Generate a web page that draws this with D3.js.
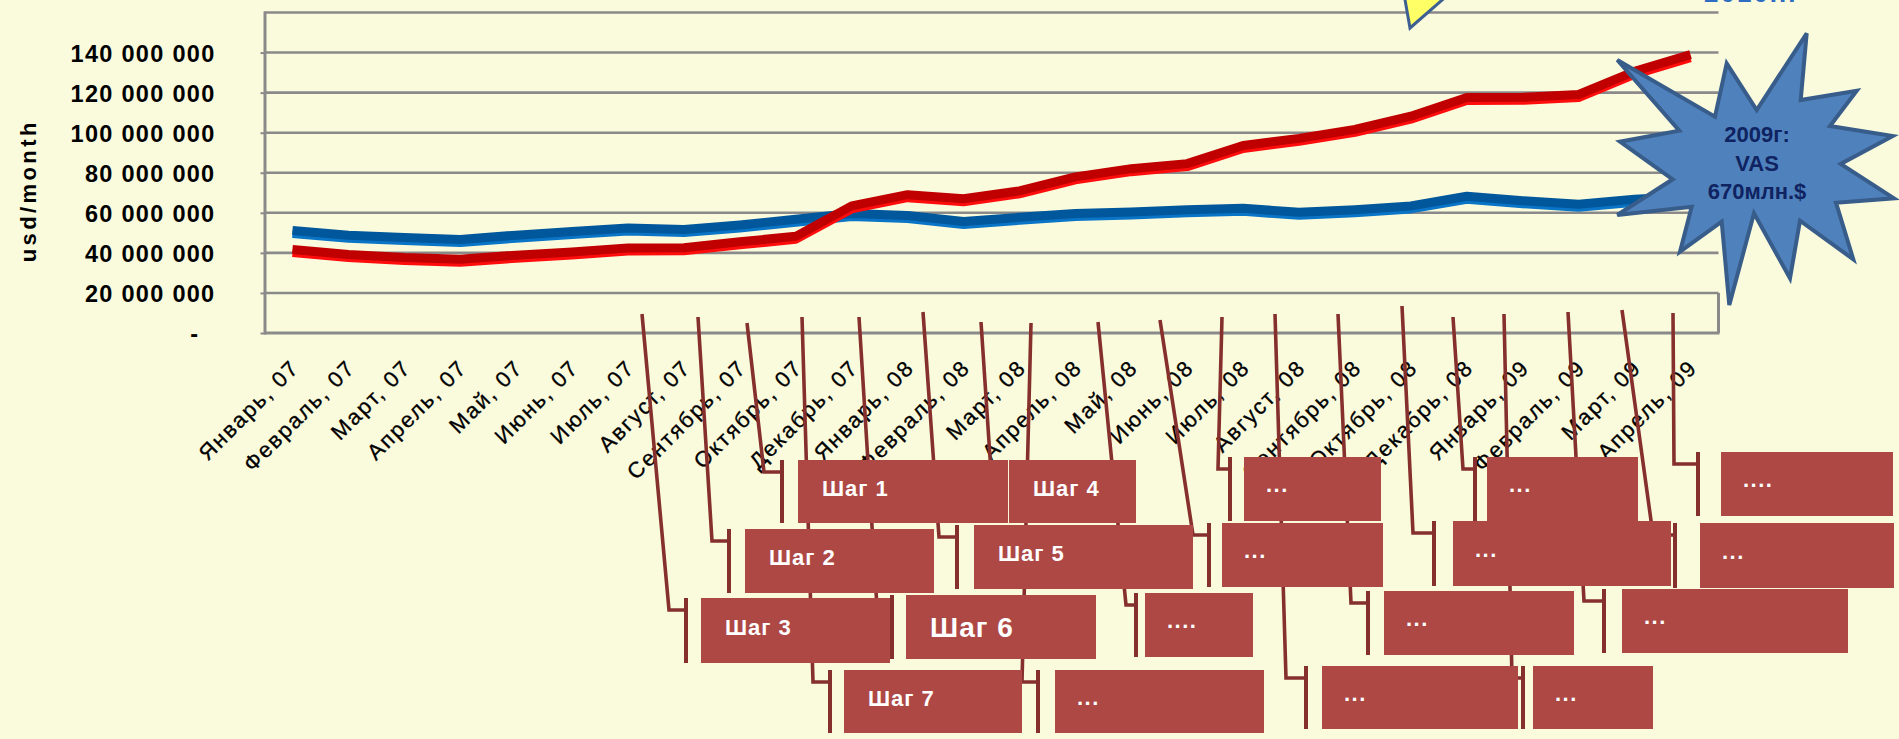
<!DOCTYPE html>
<html>
<head>
<meta charset="utf-8">
<script src="https://cdn.jsdelivr.net/npm/d3@7"></script>
<style>
  html, body { margin: 0; padding: 0; background: #fafbdd; overflow: hidden; }
  svg { display: block; }
  text { font-family: "Liberation Sans", Arial, sans-serif; }
</style>
</head>
<body>
<svg id="chart" width="1899" height="739"></svg>
<script>
// Monthly figures, Jan 2007 – Apr 2009 (November is not in the series)
const categories = [
  "Январь, 07", "Февраль, 07", "Март, 07", "Апрель, 07", "Май, 07", "Июнь, 07",
  "Июль, 07", "Август, 07", "Сентябрь, 07", "Октябрь, 07", "Декабрь, 07",
  "Январь, 08", "Февраль, 08", "Март, 08", "Апрель, 08", "Май, 08", "Июнь, 08",
  "Июль, 08", "Август, 08", "Сентябрь, 08", "Октябрь, 08", "Декабрь, 08",
  "Январь, 09", "Февраль, 09", "Март, 09", "Апрель, 09"
];

// values in millions of USD per month
const blueValues = [50.4, 48.1, 46.9, 45.9, 48.1, 49.9, 51.7, 50.9, 53.2, 56.0, 58.9,
                    57.9, 54.9, 57.0, 58.9, 59.7, 60.8, 61.5, 59.5, 60.8, 62.7,
                    67.5, 65.3, 63.5, 66.0, 67.5];
const redValues  = [40.9, 38.4, 36.9, 36.1, 38.1, 39.7, 41.7, 41.8, 44.8, 47.5, 62.7,
                    68.3, 66.3, 70.2, 77.2, 81.3, 83.8, 92.9, 96.4, 100.9, 107.5,
                    116.8, 116.9, 118.3, 129.9, 138.2];

const yTickValues = [0, 20, 40, 60, 80, 100, 120, 140];   // millions
const yGridValues = [20, 40, 60, 80, 100, 120, 140, 160];
const yMax = 160;
const axisTitle = "usd/month";

const starLines = ["2009г:", "VAS", "670млн.$"];
const headline = "2010...";

// callout captions, ordered by the point they lead to
const calloutLabels = ["Шаг 3", "Шаг 2", "Шаг 1", "Шаг 7", "Шаг 6", "Шаг 5", "Шаг 4",
                       "...", "....", "...", "...", "...", "...", "...", "...", "...",
                       "...", "...", "...."];

// ---------------- layout ----------------
const svg = d3.select("#chart");
const M = 1e6;
const plot = { left: 264.5, right: 1718.5, top: 12.5, bottom: 333 };

const x = d3.scaleBand().domain(categories).range([plot.left, plot.right]);
const cx = c => x(c) + x.bandwidth() / 2;
const y = d3.scaleLinear().domain([0, yMax * M]).range([plot.bottom, plot.top]);

const gridColor = "#8a8a8a";

// horizontal gridlines
svg.append("g").selectAll("line").data(yGridValues).join("line")
  .attr("x1", plot.left).attr("x2", plot.right)
  .attr("y1", d => y(d * M)).attr("y2", d => y(d * M))
  .attr("stroke", gridColor).attr("stroke-width", 2.6);

// frame: value axis line, category axis line and the short right edge
svg.append("line").attr("x1", plot.left + 0.5).attr("x2", plot.left + 0.5)
  .attr("y1", y(yMax * M) - 1).attr("y2", plot.bottom + 1.5)
  .attr("stroke", gridColor).attr("stroke-width", 3);
svg.append("line").attr("x1", plot.left).attr("x2", plot.right + 1)
  .attr("y1", plot.bottom).attr("y2", plot.bottom)
  .attr("stroke", gridColor).attr("stroke-width", 3);
svg.append("line").attr("x1", plot.right).attr("x2", plot.right)
  .attr("y1", y(20 * M)).attr("y2", plot.bottom)
  .attr("stroke", gridColor).attr("stroke-width", 3);

// value axis
const fmt = d3.formatLocale({ decimal: ",", thousands: " ", grouping: [3], currency: ["", ""] }).format(",d");
const yAxis = svg.append("g")
  .attr("transform", `translate(${plot.left},0)`)
  .call(d3.axisLeft(y).tickValues(yTickValues.map(v => v * M))
    .tickSize(4).tickPadding(45)
    .tickFormat(v => v === 0 ? "-" : fmt(v)));
yAxis.select(".domain").remove();
yAxis.selectAll(".tick line").attr("stroke", gridColor).attr("stroke-width", 2);
yAxis.selectAll(".tick text")
  .attr("fill", "#000").attr("font-size", 23.5).attr("font-weight", "bold")
  .attr("letter-spacing", "1.3px").attr("dy", "0.36em")
  .attr("dx", v => v === 0 ? -16 : 0);

svg.append("text")
  .attr("transform", `translate(36,${y(70 * M) - 2}) rotate(-90)`)
  .attr("text-anchor", "middle")
  .attr("font-size", 22).attr("font-weight", "bold").attr("letter-spacing", "3.4px")
  .attr("fill", "#000").text(axisTitle);

// category axis
const xAxis = svg.append("g")
  .attr("transform", `translate(0,${plot.bottom})`)
  .call(d3.axisBottom(x).tickSize(0));
xAxis.select(".domain").remove();
xAxis.selectAll(".tick text")
  .attr("x", 0).attr("y", 0).attr("dy", 0)
  .attr("transform", "translate(8,36) rotate(-45)")
  .attr("text-anchor", "end")
  .attr("fill", "#000").attr("font-size", 22).attr("letter-spacing", "1.9px")
  .attr("stroke", "#000").attr("stroke-width", 0.3);

// series: a darker stroke over a brighter one shifted down gives the two-tone band
function drawSeries(values, dark, bright) {
  const pts = categories.map((c, i) => [cx(c), y(values[i] * M)]);
  const g = svg.append("g").attr("fill", "none")
    .attr("stroke-linejoin", "round").attr("stroke-linecap", "butt");
  g.append("path").attr("d", d3.line()(pts.map(p => [p[0], p[1] + 2])))
    .attr("stroke", bright).attr("stroke-width", 8);
  g.append("path").attr("d", d3.line()(pts.map(p => [p[0], p[1] - 1.5])))
    .attr("stroke", dark).attr("stroke-width", 9);
}
drawSeries(blueValues, "#00579b", "#0a74c6");
drawSeries(redValues, "#c00000", "#ff0d0d");

// ---------------- callouts ----------------
// box: [x, y, w, h]; bar: x of the accent bar; elbow: x where the leader turns; tip: leader end
const calloutLayout = [
  { box: [701, 598, 189, 65], bar: 686, elbow: 669, tip: [642, 314], size: 22 },
  { box: [745, 529, 189, 64], bar: 729, elbow: 712, tip: [698, 317], size: 22 },
  { box: [798, 460, 210, 63], bar: 782, elbow: 764, tip: [747, 323], size: 22 },
  { box: [844, 670, 178, 63], bar: 830, elbow: 813, tip: [802, 317], size: 22 },
  { box: [906, 595, 190, 64], bar: 892, elbow: 877, tip: [859, 317], size: 28 },
  { box: [974, 525, 219, 64], bar: 957, elbow: 939, tip: [923, 312], size: 22 },
  { box: [1009, 460, 127, 63], bar: 994, elbow: 991, tip: [981, 322], size: 22 },
  { box: [1055, 670, 209, 63], bar: 1038, elbow: 1022, tip: [1031, 323], size: 22 },
  { box: [1145, 593, 108, 64], bar: 1136, elbow: 1126, tip: [1098, 322], size: 22 },
  { box: [1222, 523, 161, 64], bar: 1209, elbow: 1193, tip: [1160, 320], size: 22 },
  { box: [1244, 457, 137, 64], bar: 1230, elbow: 1218, tip: [1222, 317], size: 22 },
  { box: [1322, 666, 196, 63], bar: 1306, elbow: 1286, tip: [1275, 314], size: 22 },
  { box: [1384, 591, 190, 64], bar: 1368, elbow: 1351, tip: [1338, 314], size: 22 },
  { box: [1453, 521, 218, 65], bar: 1434, elbow: 1413, tip: [1402, 306], size: 22 },
  { box: [1487, 457, 151, 64], bar: 1475, elbow: 1463, tip: [1453, 317], size: 22 },
  { box: [1533, 666, 120, 63], bar: 1523, elbow: 1512, tip: [1504, 314], size: 22 },
  { box: [1622, 589, 226, 64], bar: 1604, elbow: 1584, tip: [1568, 312], size: 22 },
  { box: [1700, 523, 194, 65], bar: 1675, elbow: 1653, tip: [1622, 310], size: 22 },
  { box: [1721, 452, 172, 64], bar: 1698, elbow: 1674, tip: [1673, 313], size: 22 }
];
const callouts = calloutLabels.map((label, i) => ({ label, ...calloutLayout[i] }));

const leaderColor = "#86302e";
const boxColor = "#ae4845";

const leaders = svg.append("g").attr("fill", "none").attr("stroke", leaderColor)
  .attr("stroke-width", 3.6).attr("stroke-linejoin", "miter");
leaders.selectAll("path.leader").data(callouts).join("path").attr("class", "leader")
  .attr("d", d => {
    const ey = d.box[1] + 12;
    return d3.line()([d.tip, [d.elbow, ey], [d.bar, ey]]);
  });
leaders.selectAll("line.bar").data(callouts).join("line").attr("class", "bar")
  .attr("x1", d => d.bar).attr("x2", d => d.bar)
  .attr("y1", d => d.box[1]).attr("y2", d => d.box[1] + d.box[3])
  .attr("stroke-width", 4);

const boxes = svg.append("g").selectAll("g").data(callouts).join("g");
boxes.append("rect")
  .attr("x", d => d.box[0]).attr("y", d => d.box[1])
  .attr("width", d => d.box[2]).attr("height", d => d.box[3])
  .attr("fill", boxColor);
boxes.append("text")
  .attr("x", d => d.box[0] + (d.label.startsWith("Шаг") ? 24 : 22))
  .attr("y", d => d.box[1] + d.box[3] / 2 + (d.size > 22 ? 10 : (d.label.startsWith("Шаг") ? 4 : 3)))
  .attr("fill", "#fff").attr("font-weight", "bold")
  .attr("font-size", d => d.size)
  .attr("letter-spacing", d => d.label.startsWith("Шаг") ? "1px" : "1.5px")
  .text(d => d.label);

// ---------------- star annotation ----------------
const starCenter = [1757, 170];
const starShape = [
  [-139.7, -110], [-42, -53.3], [-30.3, -106.7], [-0.3, -60], [49.7, -136.7], [43.7, -70],
  [99.7, -79.3], [73, -44], [135.7, -34], [83.7, -6], [137, 28.3], [79, 32.7],
  [96.3, 89.3], [43, 50.7], [33, 108.3], [-3, 43.3], [-27.7, 135], [-35.3, 51.7],
  [-77, 81.7], [-65.3, 36.7], [-139.7, 45], [-84.3, 9.3], [-137, -28.3], [-77.7, -39.3]
];
const star = svg.append("g").attr("transform", `translate(${starCenter[0]},${starCenter[1]})`);
star.append("path")
  .attr("d", d3.line().curve(d3.curveLinearClosed)(starShape))
  .attr("fill", "#4f81bd").attr("stroke", "#385d8a").attr("stroke-width", 4)
  .attr("stroke-linejoin", "miter");
star.selectAll("text").data(starLines).join("text")
  .attr("x", 0).attr("y", (d, i) => -28 + i * 28.7)
  .attr("text-anchor", "middle")
  .attr("font-size", 22).attr("font-weight", "bold").attr("fill", "#0f2360")
  .text(d => d);

// ---------------- partly visible shapes along the top edge ----------------
svg.append("path")
  .attr("d", d3.line()([[1404, -6], [1410, 28], [1449, -6]]))
  .attr("fill", "#ffff66").attr("stroke", "#3d5f91").attr("stroke-width", 3);
svg.append("text")
  .attr("x", 1704).attr("y", 2)
  .attr("font-size", 26).attr("font-weight", "bold").attr("fill", "#2f6cc4")
  .attr("letter-spacing", "2px")
  .text(headline);
</script>
</body>
</html>
